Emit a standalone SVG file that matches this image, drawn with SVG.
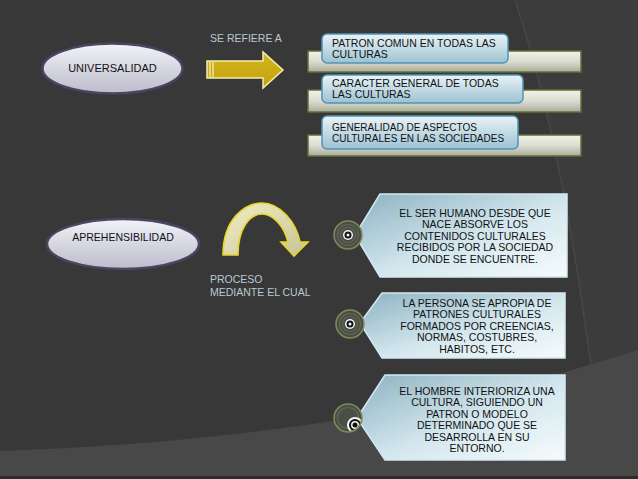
<svg xmlns="http://www.w3.org/2000/svg" width="638" height="479" viewBox="0 0 638 479">
<defs>
<style>
.t{font-family:"Liberation Sans",Arial,sans-serif;font-size:10.5px;fill:#111}
.lbl{font-family:"Liberation Sans",Arial,sans-serif;font-size:10.5px;fill:#b9c9d1}
.c{text-anchor:middle}
.ell{fill:url(#gEll);stroke:#4a4560;stroke-width:2.5}
.bar{fill:url(#gBar);stroke:#5f7038;stroke-width:1.5}
.box{fill:url(#gBox);stroke:#4f95b5;stroke-width:1.5}
.tag{fill:url(#gTag);stroke:#d2e8f0;stroke-width:1.5}
.dot{fill:#4b4e42;stroke:#7d8c5a;stroke-width:1.5}
.ring{fill:none;stroke:#63665a;stroke-width:1.2}
</style>
<linearGradient id="gEll" x1="0" y1="0" x2="0" y2="1"><stop offset="0" stop-color="#f2f2f8"/><stop offset="1" stop-color="#bcbccc"/></linearGradient>
<linearGradient id="gBar" x1="0" y1="0" x2="0" y2="1"><stop offset="0" stop-color="#f2f2ea"/><stop offset="0.5" stop-color="#dcdcd2"/><stop offset="1" stop-color="#a9ad99"/></linearGradient>
<linearGradient id="gBox" x1="0" y1="0" x2="0" y2="1"><stop offset="0" stop-color="#eaf3f7"/><stop offset="1" stop-color="#9cc2d2"/></linearGradient>
<linearGradient id="gTag" x1="0" y1="0" x2="1" y2="1"><stop offset="0" stop-color="#8cb2c2"/><stop offset="0.55" stop-color="#d4e7ee"/><stop offset="1" stop-color="#f6fbfc"/></linearGradient>
<linearGradient id="gArr" x1="0" y1="0" x2="0" y2="1"><stop offset="0" stop-color="#d4b41c"/><stop offset="1" stop-color="#c4a40e"/></linearGradient>
<linearGradient id="gCurve" x1="0" y1="0" x2="1" y2="1"><stop offset="0" stop-color="#f2eec4"/><stop offset="1" stop-color="#c8c296"/></linearGradient>
<clipPath id="cp3"><circle cx="348" cy="418" r="13"/></clipPath>
</defs>

<!-- background -->
<rect width="638" height="479" fill="#383838"/>
<path d="M515 0 Q572 170 604 479 L638 479 L638 0 Z" fill="#3c3c3c"/>
<path d="M515 0 Q572 170 604 479" fill="none" stroke="#474747" stroke-width="1.5"/>
<path d="M0 451 C200 444 430 418 638 350 L638 479 L0 479 Z" fill="#484848"/>
<rect x="0" y="476" width="638" height="3" fill="#2c2c2c"/>

<g id="universalidad">
<ellipse class="ell" cx="112.5" cy="68.5" rx="70" ry="25"/>
<text class="t c" x="112.5" y="72" style="font-size:11px">UNIVERSALIDAD</text>
</g>

<g id="se-refiere-a">
<text class="lbl" x="210" y="42">SE REFIERE A</text>
<path d="M207 61 L263 61 L263 52 L283 70 L263 88 L263 78 L207 78 Z" fill="url(#gArr)" stroke="#f3eeb0" stroke-width="1.5"/>
<path d="M210 62 V77 M213 62 V77" stroke="#f6f2cc" stroke-width="1.2"/>
</g>

<g id="item1">
<rect class="bar" x="308" y="51" width="273" height="21"/>
<rect class="box" x="322" y="34" width="186" height="29" rx="5"/>
<text class="t" x="332" y="47">PATRON COMUN EN TODAS LAS</text>
<text class="t" x="332" y="58">CULTURAS</text>
</g>

<g id="item2">
<rect class="bar" x="308" y="90" width="273" height="22"/>
<rect class="box" x="322" y="75" width="201" height="28" rx="5"/>
<text class="t" x="332" y="87">CARACTER GENERAL DE TODAS</text>
<text class="t" x="332" y="98">LAS CULTURAS</text>
</g>

<g id="item3">
<rect class="bar" x="308" y="135" width="273" height="21"/>
<rect class="box" x="322" y="116" width="196" height="33" rx="5"/>
<text class="t" x="332" y="131" style="font-size:10px">GENERALIDAD DE ASPECTOS</text>
<text class="t" x="332" y="141.5" style="font-size:10px">CULTURALES EN LAS SOCIEDADES</text>
</g>

<g id="aprehensibilidad">
<ellipse class="ell" cx="123" cy="244" rx="76" ry="25"/>
<text class="t c" x="123" y="240.5" style="font-size:10.5px">APREHENSIBILIDAD</text>
</g>

<g id="proceso">
<path d="M223 255 C223 218 246 203 262 203 C280 203 296 222 300 242 L308 242 L294 256 L281 242 L288 242 C284 226 273 214 262 214 C250 214 238 228 238 255 Z" fill="url(#gCurve)" stroke="#e4d828" stroke-width="1.6"/>
<text class="lbl" x="210" y="283">PROCESO</text>
<text class="lbl" x="210" y="296">MEDIANTE EL CUAL</text>
</g>

<g id="tag1">
<path class="tag" d="M380 194 L567 194 L567 277 L380 277 L355 235 Z"/>
<circle class="dot" cx="348" cy="235" r="14"/>
<circle class="ring" cx="348" cy="235" r="10.5"/>
<circle class="ring" cx="348" cy="235" r="7.5"/>
<circle cx="348" cy="235" r="5" fill="#f4f4f4"/>
<circle cx="348" cy="235" r="3.5" fill="#111"/>
<circle cx="348" cy="235" r="1.5" fill="#f4f4f4"/>
<text class="t c" x="475" y="216.5">EL SER HUMANO DESDE QUE</text>
<text class="t c" x="475" y="228">NACE ABSORVE LOS</text>
<text class="t c" x="475" y="239.5">CONTENIDOS CULTURALES</text>
<text class="t c" x="475" y="251">RECIBIDOS POR LA SOCIEDAD</text>
<text class="t c" x="475" y="262.5">DONDE SE ENCUENTRE.</text>
</g>

<g id="tag2">
<path class="tag" d="M382 293 L565 293 L565 358 L382 358 L360 323 Z"/>
<circle class="dot" cx="350" cy="324" r="14"/>
<circle class="ring" cx="350" cy="324" r="10.5"/>
<circle class="ring" cx="350" cy="324" r="7.5"/>
<circle cx="350" cy="324" r="5" fill="#f4f4f4"/>
<circle cx="350" cy="324" r="3.5" fill="#111"/>
<circle cx="350" cy="324" r="1.5" fill="#f4f4f4"/>
<text class="t c" x="477" y="306.5">LA PERSONA SE APROPIA DE</text>
<text class="t c" x="477" y="318">PATRONES CULTURALES</text>
<text class="t c" x="477" y="329.5">FORMADOS POR CREENCIAS,</text>
<text class="t c" x="477" y="341">NORMAS, COSTUBRES,</text>
<text class="t c" x="477" y="352.5">HABITOS, ETC.</text>
</g>

<g id="tag3">
<path class="tag" d="M385 375 L565 375 L565 460 L385 460 L357 418 Z"/>
<circle class="dot" cx="348" cy="418" r="14"/>
<g clip-path="url(#cp3)">
<circle class="ring" cx="348" cy="418" r="10.5"/>
<circle cx="355" cy="425" r="8" fill="#f4f4f4"/>
<circle cx="355" cy="425" r="6" fill="#111"/>
<circle cx="355" cy="425" r="4" fill="#f4f4f4"/>
<circle cx="355" cy="425" r="2.5" fill="#111"/>
</g>
<text class="t c" x="477" y="394.5">EL HOMBRE INTERIORIZA UNA</text>
<text class="t c" x="477" y="406">CULTURA, SIGUIENDO UN</text>
<text class="t c" x="477" y="417.5">PATRON O MODELO</text>
<text class="t c" x="477" y="429">DETERMINADO QUE SE</text>
<text class="t c" x="477" y="440.5">DESARROLLA EN SU</text>
<text class="t c" x="477" y="452">ENTORNO.</text>
</g>
</svg>
